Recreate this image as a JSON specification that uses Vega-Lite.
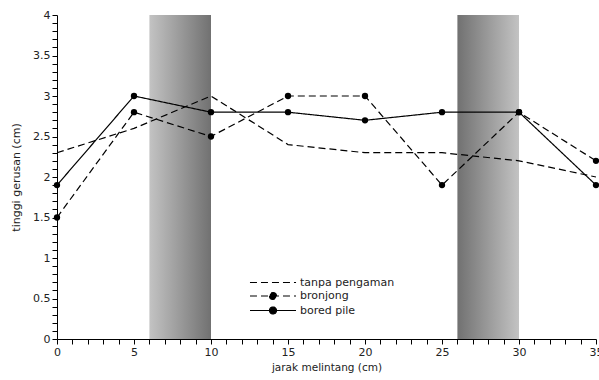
{
  "$schema": "https://vega.github.io/schema/vega-lite/v6.json",
  "width": 539,
  "height": 324,
  "autosize": {"type": "none"},
  "padding": {"left": 57, "top": 15, "right": 3, "bottom": 41},
  "background": "white",
  "config": {
    "view": {"stroke": null},
    "font": "DejaVu Sans",
    "axis": {
      "grid": false,
      "domainColor": "black",
      "domainWidth": 1,
      "tickColor": "black",
      "tickWidth": 1,
      "labelColor": "#222",
      "labelFont": "DejaVu Sans",
      "labelFontSize": 11,
      "titleFont": "DejaVu Sans",
      "titleFontWeight": "normal",
      "titleColor": "#222",
      "labelOverlap": false,
      "labelFlush": false,
      "labelBound": false
    }
  },
  "datasets": {
    "series": [
      {"x": 0, "y": 2.3, "series": "tanpa pengaman"},
      {"x": 5, "y": 2.6, "series": "tanpa pengaman"},
      {"x": 10, "y": 3.0, "series": "tanpa pengaman"},
      {"x": 15, "y": 2.4, "series": "tanpa pengaman"},
      {"x": 20, "y": 2.3, "series": "tanpa pengaman"},
      {"x": 25, "y": 2.3, "series": "tanpa pengaman"},
      {"x": 30, "y": 2.2, "series": "tanpa pengaman"},
      {"x": 35, "y": 2.0, "series": "tanpa pengaman"},
      {"x": 0, "y": 1.5, "series": "bronjong"},
      {"x": 5, "y": 2.8, "series": "bronjong"},
      {"x": 10, "y": 2.5, "series": "bronjong"},
      {"x": 15, "y": 3.0, "series": "bronjong"},
      {"x": 20, "y": 3.0, "series": "bronjong"},
      {"x": 25, "y": 1.9, "series": "bronjong"},
      {"x": 30, "y": 2.8, "series": "bronjong"},
      {"x": 35, "y": 2.2, "series": "bronjong"},
      {"x": 0, "y": 1.9, "series": "bored pile"},
      {"x": 5, "y": 3.0, "series": "bored pile"},
      {"x": 10, "y": 2.8, "series": "bored pile"},
      {"x": 15, "y": 2.8, "series": "bored pile"},
      {"x": 20, "y": 2.7, "series": "bored pile"},
      {"x": 25, "y": 2.8, "series": "bored pile"},
      {"x": 30, "y": 2.8, "series": "bored pile"},
      {"x": 35, "y": 1.9, "series": "bored pile"}
    ],
    "zones": [
      {"x": 6, "x_end": 10, "side": "left"},
      {"x": 26, "x_end": 30, "side": "right"}
    ]
  },
  "layer": [
    {
      "data": {"name": "zones"},
      "transform": [{"filter": "datum.side === 'left'"}],
      "mark": {
        "type": "rect",
        "color": {"gradient": "linear", "x1": 0, "x2": 1, "y1": 0, "y2": 0,
          "stops": [{"offset": 0, "color": "#c3c3c3"}, {"offset": 1, "color": "#717171"}]}
      },
      "encoding": {
        "x": {"field": "x", "type": "quantitative", "scale": {"domain": [0, 35], "nice": false, "zero": false}, "title": "jarak melintang (cm)"},
        "x2": {"field": "x_end"}
      }
    },
    {
      "data": {"name": "zones"},
      "transform": [{"filter": "datum.side === 'right'"}],
      "mark": {
        "type": "rect",
        "color": {"gradient": "linear", "x1": 0, "x2": 1, "y1": 0, "y2": 0,
          "stops": [{"offset": 0, "color": "#717171"}, {"offset": 1, "color": "#c3c3c3"}]}
      },
      "encoding": {
        "x": {"field": "x", "type": "quantitative", "title": "jarak melintang (cm)"},
        "x2": {"field": "x_end"}
      }
    },
    {
      "data": {"name": "series"},
      "mark": {"type": "line", "color": "black", "strokeWidth": 1.2},
      "encoding": {
        "x": {"field": "x", "type": "quantitative", "title": "jarak melintang (cm)",
          "axis": {
            "titleFontSize": 10.5, "titlePadding": 5,
            "values": [0,1,2,3,4,5,6,7,8,9,10,11,12,13,14,15,16,17,18,19,20,21,22,23,24,25,26,27,28,29,30,31,32,33,34,35],
            "tickCount": 200,
            "labelExpr": "datum.value % 5 === 0 ? format(datum.value, 'd') : ''",
            "labelOverlap": false,
            "tickSize": 5,
            "labelPadding": 2,
            "encode": {"ticks": {"update": {"y2": {"signal": "datum.value % 5 === 0 ? 5 : 2.5"}}}}
          }},
        "y": {"field": "y", "type": "quantitative", "scale": {"domain": [0, 4], "nice": false, "zero": false}, "title": "tinggi gerusan (cm)",
          "axis": {
            "titleFontSize": 11, "titlePadding": 11,
            "values": [0,0.1,0.2,0.3,0.4,0.5,0.6,0.7,0.8,0.9,1,1.1,1.2,1.3,1.4,1.5,1.6,1.7,1.8,1.9,2,2.1,2.2,2.3,2.4,2.5,2.6,2.7,2.8,2.9,3,3.1,3.2,3.3,3.4,3.5,3.6,3.7,3.8,3.9,4],
            "tickCount": 200,
            "labelExpr": "abs(datum.value*2 - round(datum.value*2)) < 0.001 ? format(datum.value, '~g') : ''",
            "labelOverlap": false,
            "tickSize": 5,
            "labelPadding": 2,
            "encode": {"ticks": {"update": {"x2": {"signal": "abs(datum.value*2 - round(datum.value*2)) < 0.001 ? -5 : -2.5"}}}}
          }},
        "strokeDash": {
          "field": "series", "type": "nominal",
          "scale": {"domain": ["tanpa pengaman", "bronjong", "bored pile"], "range": [[7, 4], [7, 4], [1, 0]]},
          "legend": {
            "title": null, "orient": "none", "legendX": 192, "legendY": 259.5, "padding": 0,
            "symbolSize": 196, "symbolOffset": 16, "labelOffset": 19, "rowPadding": 0.5,
            "labelFontSize": 11, "labelColor": "#222", "labelFont": "DejaVu Sans",
            "symbolStrokeWidth": 1.2, "symbolStrokeColor": "black",
            "encode": {
              "symbols": {
                "update": {
                  "shape": {"signal": "datum.value === 'tanpa pengaman' ? 'M-3.29,0H3.29' : 'M-3.29,0H3.29M-0.5,0A0.5,0.5,0,1,0,0.5,0A0.5,0.5,0,1,0,-0.5,0'"},
                  "fill": {"value": "black"},
                  "stroke": {"value": "black"},
                  "strokeDash": {"signal": "datum.value === 'bored pile' ? [1, 0] : [5, 4]"}
                }
              }
            }
          }
        }
      }
    },
    {
      "data": {"name": "series"},
      "transform": [{"filter": "datum.series !== 'tanpa pengaman'"}],
      "mark": {"type": "point", "filled": true, "color": "black", "size": 40, "opacity": 1},
      "encoding": {
        "x": {"field": "x", "type": "quantitative", "title": "jarak melintang (cm)"},
        "y": {"field": "y", "type": "quantitative", "title": "tinggi gerusan (cm)"}
      }
    }
  ]
}
